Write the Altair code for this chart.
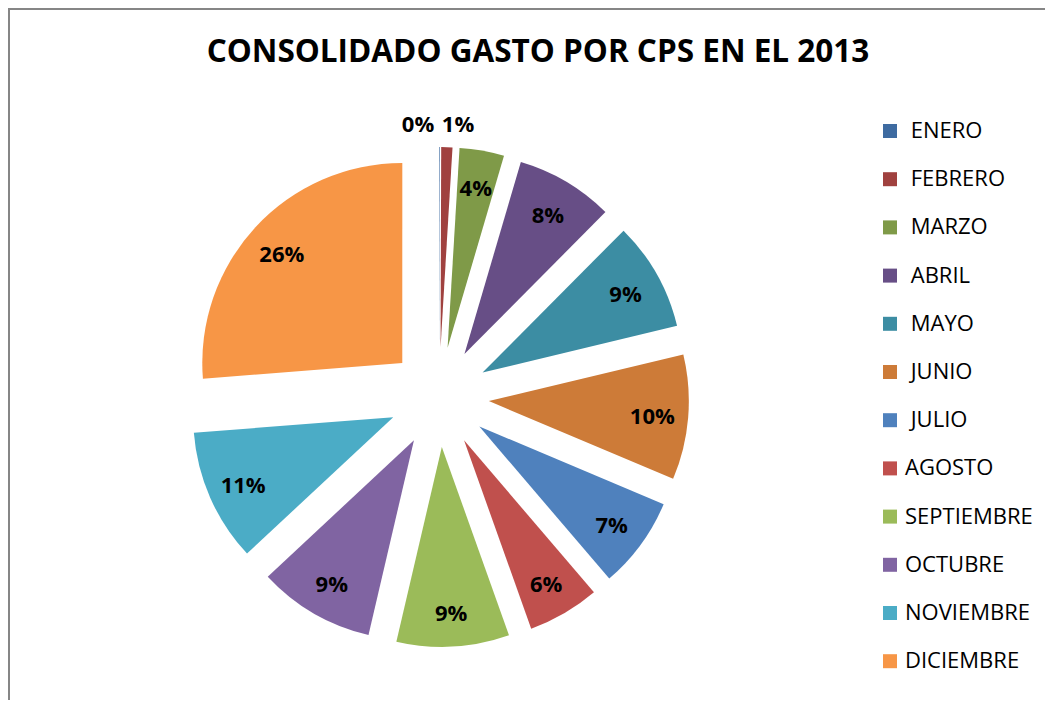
import altair as alt
import pandas as pd

# ---- data ----
months = ["ENERO", "FEBRERO", "MARZO", "ABRIL", "MAYO", "JUNIO",
          "JULIO", "AGOSTO", "SEPTIEMBRE", "OCTUBRE", "NOVIEMBRE", "DICIEMBRE"]
share = [0.05, 0.9, 3.6, 7.9, 8.8, 10.1, 7.4, 5.8, 9.1, 9.4, 10.7, 26.25]
colors = ["#3E6BA1", "#A0413F", "#7F9A48", "#674E86", "#3C8DA3", "#CD7B38",
          "#4F81BD", "#C0504D", "#9BBB59", "#8064A2", "#4BACC6", "#F79646"]
title_text = "CONSOLIDADO GASTO POR CPS EN EL 2013"

df = pd.DataFrame({"month": months, "value": share, "i": list(range(len(months)))})

# ---- layout ----
W, H = 1037, 692
CX, CY = 431, 389      # pie centre
R = 200                # slice radius
D = 50                 # explosion distance
LR = 214               # label radius (inside labels)
LR_OUT = 272           # label radius for tiny slices
FONT = "Open Sans"

base = alt.Chart(df).transform_window(
    cum="sum(value)", sort=[alt.SortField("i")], frame=[None, 0]
).transform_joinaggregate(
    total="sum(value)"
).transform_calculate(
    t0="2*PI*(datum.cum - datum.value)/datum.total",
    t1="2*PI*datum.cum/datum.total",
).transform_calculate(
    mid="(datum.t0 + datum.t1)/2",
).transform_calculate(
    cx=f"{CX} + {D}*sin(datum.mid)",
    cy=f"{CY} - {D}*cos(datum.mid)",
    small="datum.value/datum.total < 0.02",
    pct="format(datum.value/datum.total, '.0%')",
).transform_calculate(
    lx=f"datum.small ? ({CX} + (datum.i == 0 ? -21 : 19)) : ({CX} + {LR}*sin(datum.mid))",
    ly=f"datum.small ? ({CY} - {LR_OUT}) : ({CY} + 3 - {LR}*cos(datum.mid))",
)

pad_cond = " || ".join(f"datum.label == '{m}'" for m in months[:7])
label_expr = f"({pad_cond}) ? '\u200b\u00a0' + datum.label : datum.label"

arcs = base.mark_arc(radius=R, strokeWidth=0).encode(
    theta=alt.Theta("t0:Q", scale=None, stack=None),
    theta2="t1:Q",
    x=alt.X("cx:Q", scale=None),
    y=alt.Y("cy:Q", scale=None),
    color=alt.Color(
        "month:N",
        sort=months,
        scale=alt.Scale(domain=months, range=colors),
        legend=alt.Legend(
            orient="none", legendX=871, legendY=112, title=None,
            symbolType="square", symbolSize=196, symbolStrokeWidth=0,
            symbolOpacity=1,
            labelFont=FONT, labelFontSize=22, labelColor="black",
            labelOffset=4, rowPadding=26.2, padding=0, labelLimit=300,
            labelExpr=label_expr,
        ),
    ),
    order=alt.Order("i:Q"),
)

labels = base.mark_text(font=FONT, fontWeight="bold", fontSize=22,
                        color="black", align="center", baseline="middle").encode(
    x=alt.X("lx:Q", scale=None),
    y=alt.Y("ly:Q", scale=None),
    text="pct:N",
)

one = pd.DataFrame({"t": [title_text]})
title = alt.Chart(one).mark_text(font=FONT, fontWeight="bold", fontSize=31.5,
                                 color="black", align="center", baseline="middle").encode(
    x=alt.value(530), y=alt.value(45), text="t:N"
)

frame_left = alt.Chart(one).mark_rule(color="#868686", strokeWidth=2).encode(
    x=alt.value(1), y=alt.value(0), y2=alt.value(H)
)
frame_top = alt.Chart(one).mark_rule(color="#868686", strokeWidth=2).encode(
    y=alt.value(1), x=alt.value(0), x2=alt.value(W)
)

chart = alt.layer(frame_left, frame_top, title, arcs, labels).properties(
    width=W, height=H, autosize=alt.AutoSizeParams(type="none"), padding=0
).configure_view(stroke=None).configure(background="white")

chart.save("out.html", embed_options={"renderer": "svg", "actions": False})
